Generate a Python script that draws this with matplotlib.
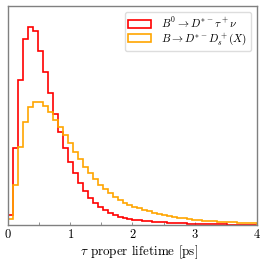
import numpy as np
import matplotlib
matplotlib.use("Agg")
import matplotlib.pyplot as plt

plt.rcParams["mathtext.fontset"] = "cm"
plt.rcParams["font.family"] = "serif"
plt.rcParams["font.serif"] = ["cmr10", "DejaVu Serif"]
plt.rcParams["axes.formatter.use_mathtext"] = True

# -----------------------------
# DATA (bin heights, arbitrary units)
# -----------------------------
bin_edges = np.linspace(0, 4, 51)

tau_nu = [10, 77, 145, 186, 198, 194, 174, 153, 132, 111,
          93, 77, 63, 52, 42, 34, 27, 22, 18, 15,
          12, 10, 8, 7, 6, 5.4, 4.9, 4.4, 4.0, 3.6,
          3.3, 3.0, 2.7, 2.4, 2.2, 2.0, 1.8, 1.6, 1.5, 1.3,
          1.2, 1.1, 1.0, 0.9, 0.8, 0.7, 0.65, 0.6, 0.55, 0.5]

ds_x = [6, 40, 78, 103, 118, 123, 123, 119, 113, 105,
        98, 90, 82, 73, 66, 58, 52, 46, 40, 36,
        32, 28, 25, 22, 20, 18.5, 17, 15.5, 14, 12.5,
        11.3, 10.2, 9.2, 8.3, 7.5, 6.8, 6.1, 5.5, 5.0, 4.5,
        4.1, 3.8, 3.5, 3.2, 3.0, 2.8, 2.6, 2.4, 2.2, 2.0]

labels = [r"$B^0 \to D^{*-}\tau^+\nu$", r"$B \to D^{*-}D_s^+(X)$"]

# -----------------------------
# PLOT
# -----------------------------
centers = 0.5 * (bin_edges[1:] + bin_edges[:-1])

fig = plt.figure(figsize=(2.66, 2.66), dpi=100)
ax = fig.add_axes([0.030, 0.153, 0.936, 0.824])

ax.hist(centers, bins=bin_edges, weights=tau_nu, histtype="step",
        color="red", lw=1.2, label=labels[0])
ax.hist(centers, bins=bin_edges, weights=ds_x, histtype="step",
        color="orange", lw=1.2, label=labels[1])

ax.set_xlim(0, 4)
ax.set_ylim(0, 219)
ax.set_yticks([])
ax.set_xticks([0, 1, 2, 3, 4])
ax.set_xticks([0.5, 1.5, 2.5, 3.5], minor=True)
ax.tick_params(axis="x", which="both", direction="in", length=2.5,
               width=0.6, color="gray", labelsize=9, pad=2)
for s in ax.spines.values():
    s.set_color("gray")
    s.set_linewidth(1.0)

ax.set_xlabel(r"$\tau$ proper lifetime [ps]", fontsize=9.4, labelpad=2,
              x=0.526)
ax.legend(loc="upper right", fontsize=8, handlelength=2.1,
          handletextpad=0.9, labelspacing=0.12, borderpad=0.3,
          borderaxespad=0.55, framealpha=1.0, edgecolor="#dddddd")

plt.savefig("out.png", dpi=100)
plt.close()
